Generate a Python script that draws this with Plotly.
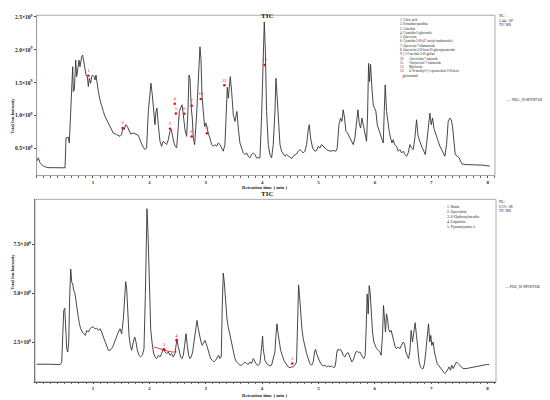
import numpy as np
import plotly.graph_objects as go

# NEG mode TIC (time in min, intensity in 1e9)
neg_time = [
    0.0, 0.03, 0.06, 0.12, 0.2, 0.3, 0.4, 0.504, 0.521, 0.563,
    0.58, 0.604, 0.622, 0.64, 0.651, 0.669, 0.693, 0.71, 0.728, 0.752,
    0.769, 0.781, 0.799, 0.817, 0.84, 0.858, 0.876, 0.9, 0.917, 0.935,
    0.959, 0.976, 0.994, 1.018, 1.036, 1.053, 1.065, 1.095, 1.124, 1.154,
    1.183, 1.213, 1.242, 1.272, 1.301, 1.36, 1.42, 1.479, 1.508, 1.526,
    1.55, 1.585, 1.609, 1.638, 1.668, 1.715, 1.762, 1.804, 1.833, 1.881,
    1.922, 1.951, 1.981, 2.011, 2.028, 2.052, 2.082, 2.099, 2.117, 2.135,
    2.158, 2.188, 2.217, 2.247, 2.277, 2.306, 2.336, 2.365, 2.389, 2.413,
    2.436, 2.46, 2.484, 2.513, 2.531, 2.554, 2.578, 2.602, 2.631, 2.661,
    2.684, 2.702, 2.72, 2.743, 2.761, 2.779, 2.803, 2.838, 2.868, 2.885,
    2.897, 2.915, 2.933, 2.956, 2.98, 3.003, 3.027, 3.051, 3.074, 3.104,
    3.134, 3.163, 3.193, 3.222, 3.252, 3.281, 3.311, 3.34, 3.358, 3.382,
    3.4, 3.417, 3.435, 3.459, 3.488, 3.518, 3.535, 3.553, 3.577, 3.606,
    3.666, 3.695, 3.725, 3.754, 3.784, 3.813, 3.843, 3.872, 3.902, 3.961,
    3.991, 4.02, 4.038, 4.056, 4.079, 4.109, 4.138, 4.168, 4.197, 4.227,
    4.245, 4.268, 4.292, 4.316, 4.345, 4.375, 4.404, 4.434, 4.493, 4.523,
    4.552, 4.582, 4.611, 4.641, 4.67, 4.7, 4.729, 4.759, 4.789, 4.818,
    4.836, 4.859, 4.895, 4.936, 4.966, 4.995, 5.025, 5.054, 5.084, 5.113,
    5.143, 5.202, 5.261, 5.308, 5.332, 5.362, 5.391, 5.415, 5.438, 5.462,
    5.486, 5.515, 5.545, 5.574, 5.616, 5.645, 5.675, 5.699, 5.722, 5.746,
    5.77, 5.793, 5.829, 5.852, 5.87, 5.888, 5.905, 5.923, 5.947, 5.971,
    5.994, 6.018, 6.041, 6.077, 6.112, 6.148, 6.166, 6.183, 6.207, 6.231,
    6.254, 6.278, 6.302, 6.325, 6.349, 6.384, 6.414, 6.443, 6.473, 6.503,
    6.532, 6.562, 6.591, 6.621, 6.65, 6.68, 6.709, 6.739, 6.763, 6.786,
    6.81, 6.839, 6.869, 6.893, 6.916, 6.946, 6.975, 6.999, 7.023, 7.046,
    7.07, 7.093, 7.123, 7.153, 7.182, 7.212, 7.241, 7.271, 7.3, 7.33,
    7.354, 7.377, 7.401, 7.425, 7.46, 7.495, 7.519, 7.543, 7.596, 7.685,
    7.803, 7.921, 8.039,
]
neg_int = [
    0.30, 0.354, 0.28, 0.227, 0.205, 0.202, 0.2, 0.202, 0.657, 0.667,
    0.581, 1.061, 1.338, 1.742, 1.364, 1.389, 1.843, 1.591, 1.692, 1.843,
    1.742, 1.818, 1.894, 1.919, 1.818, 1.692, 1.616, 1.591, 1.439, 1.566,
    1.49, 1.591, 1.616, 1.591, 1.54, 1.616, 1.513, 1.364, 1.237, 1.136,
    1.061, 0.985, 0.934, 0.884, 0.833, 0.732, 0.707, 0.682, 0.707, 0.808,
    0.783, 0.859, 0.833, 0.783, 0.717, 0.732, 0.707, 0.697, 0.631, 0.53,
    0.48, 0.505, 1.061, 1.364, 1.49, 1.313, 0.909, 0.859, 1.061, 1.111,
    0.859, 0.606, 0.53, 0.606, 0.581, 0.556, 0.631, 0.758, 0.783, 0.657,
    0.581, 0.53, 0.505, 0.833, 1.061, 1.111, 1.162, 1.011, 0.783, 0.682,
    1.061, 1.616, 1.566, 1.111, 0.96, 0.657, 0.556, 1.011, 1.566, 1.894,
    2.045, 1.869, 1.313, 1.061, 0.833, 0.884, 0.783, 0.707, 0.657, 0.556,
    0.53, 0.556, 0.53, 0.581, 0.556, 0.505, 0.455, 0.556, 0.96, 1.429,
    1.263, 1.49, 1.591, 1.364, 1.011, 0.909, 1.011, 1.061, 0.808, 0.581,
    0.429, 0.404, 0.429, 0.379, 0.354, 0.404, 0.429, 0.404, 0.354, 0.354,
    1.0, 2.071, 2.424, 2.02, 1.061, 0.556, 0.404, 0.354, 0.556, 1.061,
    1.566, 1.263, 0.808, 0.556, 0.455, 0.404, 0.379, 0.404, 0.354, 0.343,
    0.379, 0.404, 0.414, 0.455, 0.48, 0.455, 0.429, 0.455, 0.556, 0.783,
    0.859, 0.657, 0.505, 0.455, 0.465, 0.53, 0.505, 0.556, 0.53, 0.505,
    0.48, 0.455, 0.465, 0.455, 0.505, 0.859, 0.96, 0.909, 1.086, 0.96,
    0.758, 0.732, 0.682, 0.631, 0.556, 0.657, 0.909, 1.086, 0.884, 0.808,
    0.96, 0.859, 0.657, 0.606, 1.011, 1.793, 1.515, 1.778, 1.414, 1.162,
    1.111, 1.061, 0.859, 0.758, 0.657, 0.581, 1.061, 1.465, 1.061, 0.859,
    0.758, 0.657, 0.581, 0.631, 0.556, 0.53, 0.455, 0.48, 0.429, 0.455,
    0.404, 0.379, 0.429, 0.556, 0.505, 0.48, 0.657, 0.934, 0.707, 0.631,
    0.556, 0.505, 0.455, 0.404, 0.556, 0.859, 1.035, 0.859, 0.96, 0.808,
    0.732, 0.657, 0.606, 0.53, 0.48, 0.404, 0.379, 0.556, 0.909, 0.96,
    0.934, 0.833, 0.556, 0.404, 0.379, 0.354, 0.303, 0.263, 0.253, 0.253,
    0.247, 0.242, 0.227,
]

# POS mode TIC (time in min, intensity in 1e8)
pos_time = [
    0.0, 0.119, 0.238, 0.415, 0.445, 0.462, 0.48, 0.498, 0.515, 0.533,
    0.551, 0.569, 0.586, 0.604, 0.622, 0.64, 0.657, 0.675, 0.693, 0.71,
    0.734, 0.758, 0.781, 0.811, 0.84, 0.864, 0.888, 0.917, 0.947, 0.976,
    1.006, 1.036, 1.065, 1.095, 1.124, 1.154, 1.183, 1.213, 1.242, 1.272,
    1.301, 1.331, 1.36, 1.39, 1.42, 1.449, 1.479, 1.508, 1.538, 1.561,
    1.579, 1.597, 1.615, 1.638, 1.662, 1.686, 1.715, 1.739, 1.762, 1.786,
    1.816, 1.845, 1.875, 1.904, 1.928, 1.946, 1.957, 1.975, 1.999, 2.023,
    2.046, 2.07, 2.099, 2.129, 2.158, 2.188, 2.217, 2.247, 2.277, 2.306,
    2.336, 2.365, 2.395, 2.424, 2.454, 2.472, 2.489, 2.507, 2.531, 2.554,
    2.578, 2.602, 2.625, 2.649, 2.672, 2.696, 2.72, 2.743, 2.767, 2.791,
    2.82, 2.844, 2.868, 2.891, 2.915, 2.939, 2.962, 2.986, 3.009, 3.033,
    3.057, 3.086, 3.116, 3.145, 3.175, 3.204, 3.228, 3.252, 3.275, 3.293,
    3.311, 3.329, 3.352, 3.376, 3.4, 3.429, 3.459, 3.488, 3.518, 3.547,
    3.577, 3.606, 3.636, 3.666, 3.695, 3.725, 3.754, 3.784, 3.813, 3.843,
    3.872, 3.902, 3.931, 3.961, 3.991, 4.008, 4.02, 4.05, 4.079, 4.109,
    4.138, 4.168, 4.197, 4.227, 4.245, 4.263, 4.28, 4.304, 4.328, 4.357,
    4.387, 4.422, 4.463, 4.493, 4.523, 4.552, 4.582, 4.611, 4.629, 4.647,
    4.664, 4.682, 4.706, 4.729, 4.759, 4.789, 4.818, 4.848, 4.877, 4.907,
    4.93, 4.948, 4.966, 4.995, 5.025, 5.054, 5.084, 5.113, 5.143, 5.172,
    5.202, 5.232, 5.261, 5.291, 5.308, 5.326, 5.344, 5.367, 5.391, 5.415,
    5.438, 5.468, 5.498, 5.527, 5.545, 5.569, 5.592, 5.616, 5.639, 5.663,
    5.687, 5.71, 5.734, 5.758, 5.781, 5.805, 5.829, 5.846, 5.864, 5.882,
    5.9, 5.917, 5.935, 5.959, 5.982, 6.006, 6.03, 6.059, 6.089, 6.112,
    6.136, 6.154, 6.172, 6.189, 6.207, 6.225, 6.243, 6.266, 6.29, 6.313,
    6.337, 6.361, 6.384, 6.414, 6.443, 6.473, 6.503, 6.526, 6.55, 6.573,
    6.597, 6.621, 6.644, 6.668, 6.692, 6.715, 6.739, 6.763, 6.786, 6.81,
    6.834, 6.857, 6.881, 6.904, 6.928, 6.952, 6.975, 6.993, 7.011, 7.034,
    7.058, 7.082, 7.105, 7.129, 7.153, 7.182, 7.212, 7.241, 7.271, 7.295,
    7.318, 7.342, 7.365, 7.389, 7.418, 7.448, 7.477, 7.507, 7.537, 7.566,
    7.625, 7.685, 7.743, 7.803, 7.861, 7.921, 7.979, 8.027,
]
pos_int = [
    1.367, 1.35, 1.367, 1.35, 1.484, 2.839, 4.111, 4.229, 3.179, 2.163,
    1.994, 2.502, 4.873, 6.228, 5.551, 5.466, 5.127, 5.042, 4.703, 4.28,
    3.857, 3.433, 3.179, 3.01, 2.925, 2.839, 3.094, 3.01, 3.179, 3.264,
    3.264, 3.179, 3.213, 3.094, 3.179, 3.01, 2.756, 2.502, 2.248, 2.079,
    2.079, 2.163, 2.333, 2.586, 2.839, 3.01, 3.179, 2.925, 3.687, 5.212,
    5.584, 5.212, 4.026, 2.839, 2.333, 2.079, 2.502, 2.756, 2.502, 2.079,
    1.825, 1.74, 1.825, 2.163, 4.873, 8.26, 9.31, 8.091, 4.873, 3.179,
    2.502, 1.994, 1.74, 1.655, 1.825, 1.74, 1.91, 2.163, 1.994, 1.91,
    1.994, 1.825, 1.91, 1.74, 1.91, 2.502, 2.671, 2.333, 1.994, 1.74,
    1.655, 1.825, 2.333, 2.925, 2.333, 1.825, 1.655, 1.74, 1.994, 2.502,
    3.179, 3.603, 3.179, 2.839, 2.502, 2.333, 2.502, 2.586, 2.417, 2.163,
    1.91, 1.655, 1.571, 1.484, 1.571, 1.74, 1.825, 1.655, 1.74, 4.365,
    6.025, 5.551, 4.534, 3.687, 3.264, 2.839, 2.333, 1.91, 1.655, 1.484,
    1.401, 1.316, 1.316, 1.401, 1.484, 1.401, 1.35, 1.484, 1.401, 1.655,
    1.484, 1.35, 1.316, 1.401, 2.248, 2.807, 2.163, 1.571, 1.401, 1.316,
    1.282, 1.316, 1.655, 1.994, 2.839, 3.433, 3.01, 2.417, 2.079, 1.825,
    1.571, 1.401, 1.232, 1.181, 1.232, 1.232, 1.316, 1.484, 3.179, 5.415,
    4.873, 3.857, 3.179, 2.671, 2.248, 1.91, 1.655, 1.401, 1.316, 1.484,
    1.994, 2.129, 1.91, 1.655, 1.484, 1.35, 1.282, 1.316, 1.232, 1.282,
    1.232, 1.282, 1.198, 1.232, 1.484, 1.994, 2.129, 2.079, 2.129, 1.994,
    1.825, 1.74, 1.91, 1.96, 1.825, 1.571, 1.484, 1.571, 1.74, 1.994,
    2.028, 1.96, 1.994, 1.825, 1.74, 1.655, 1.825, 3.179, 4.958, 3.941,
    5.381, 5.042, 4.026, 3.01, 2.502, 2.333, 2.163, 2.079, 1.994, 1.825,
    2.839, 4.365, 3.348, 3.01, 3.941, 3.687, 3.179, 3.01, 3.094, 2.839,
    2.502, 2.248, 2.163, 2.248, 2.163, 2.333, 2.502, 2.417, 1.994, 1.825,
    1.655, 1.994, 3.094, 2.502, 3.01, 3.484, 2.839, 1.994, 1.484, 1.232,
    1.147, 1.147, 1.401, 1.994, 2.839, 3.433, 2.502, 2.839, 2.333, 2.502,
    1.994, 1.571, 1.401, 1.316, 1.232, 1.147, 1.011, 0.893, 0.977, 1.147,
    1.232, 1.062, 1.316, 1.147, 1.316, 1.484, 1.401, 1.316, 1.232, 1.147,
    1.147, 1.181, 1.232, 1.282, 1.282, 1.316, 1.35, 1.35,
]

# red peak labels
neg_mark_time = [0.917, 1.526, 2.365, 2.45, 2.47, 2.62, 2.75, 2.75, 2.91, 3.02, 3.33, 4.044]
neg_mark_int = [1.606, 0.808, 0.798, 1.18, 1.03, 1.025, 1.146, 0.68, 1.25, 0.73, 1.46, 1.77]
neg_mark_text = ["1", "2", "3", "4", "5", "6", "7", "8", "10", "11", "12", "13"]
pos_mark_time = [2.26, 2.48, 4.535]
pos_mark_int = [2.13, 2.59, 1.40]
pos_mark_text = ["2", "4", "5"]
pos_curve_time = [2.082, 2.16, 2.247, 2.33, 2.41, 2.484]
pos_curve_int = [2.248, 2.17, 2.10, 2.03, 1.99, 2.0]

x_ticks = [1, 2, 3, 4, 5, 6, 7, 8]

neg_compounds = [
    "1. Citric acid",
    "2. Proanthocyanidins",
    "3. Catechin",
    "4. Cyanidin-3-glucoside",
    "5. Quercetin",
    "6. Cyanidin 3-O-(6''-acetyl-arabinoside)",
    "7. Quercetin 7-rhamnoside",
    "8. Quercetin 3-O-beta-D-glucopyranoside",
    "9. (-)-Catechin 3-O-gallate",
    "10.\u00a0\u00a0\u00a0\u00a0\u00a0\u00a0Afzelechin 7-apioside",
    "11.\u00a0\u00a0\u00a0\u00a0\u00a0\u00a0Chrysoeriol 7-rutinoside",
    "12.\u00a0\u00a0\u00a0\u00a0\u00a0\u00a0Myricetin",
    "13.\u00a0\u00a0\u00a0\u00a0\u00a0\u00a04'-O-methyl-(-)-epicatechin-3-O-beta-",
    "\u00a0\u00a0\u00a0glucuronide",
]
pos_compounds = ["1. Rutin", "2. Quercitrin", "3. 6-Hydroxyluteolin", "4. Liquiritin", "5. Pyranocyanin A"]

SERIF = "Liberation Serif"
INK = "#333333"

fig = go.Figure()
fig.add_trace(go.Scatter(x=neg_time, y=np.array(neg_int) * 1e9, mode="lines",
                         line=dict(color=INK, width=0.9), xaxis="x", yaxis="y",
                         showlegend=False, hoverinfo="skip"))
fig.add_trace(go.Scatter(x=pos_time, y=np.array(pos_int) * 1e8, mode="lines",
                         line=dict(color=INK, width=0.9), xaxis="x2", yaxis="y2",
                         showlegend=False, hoverinfo="skip"))

# peak markers
fig.add_trace(go.Scatter(x=neg_mark_time, y=np.array(neg_mark_int) * 1e9, mode="markers+text",
                         text=neg_mark_text, textposition="top center",
                         textfont=dict(family=SERIF, size=4.5, color="red"),
                         marker=dict(color="red", size=2.5), xaxis="x", yaxis="y", showlegend=False))
fig.add_trace(go.Scatter(x=pos_curve_time, y=np.array(pos_curve_int) * 1e8, mode="lines",
                         line=dict(color="red", width=0.8), xaxis="x2", yaxis="y2", showlegend=False))
fig.add_trace(go.Scatter(x=pos_mark_time, y=np.array(pos_mark_int) * 1e8, mode="markers+text",
                         text=pos_mark_text, textposition="top center",
                         textfont=dict(family=SERIF, size=4.5, color="red"),
                         marker=dict(color="red", size=2.5), xaxis="x2", yaxis="y2", showlegend=False))

xcommon = dict(showgrid=False, zeroline=False, showline=True, linecolor="#444", linewidth=1,
               ticks="outside", tickcolor="#444",
               tickvals=x_ticks, ticktext=[f"<b>{t}</b>" for t in x_ticks],
               tickfont=dict(family=SERIF, size=5, color="#222"),
               minor=dict(ticks="outside", ticklen=1.5, dtick=0.125, tickcolor="#666"))
ycommon = dict(showgrid=False, zeroline=False, showline=True, linecolor="#444", linewidth=1,
               ticks="outside", ticklen=2, tickcolor="#444",
               tickfont=dict(family=SERIF, size=5.5, color="#222"))

# the page puts the figure 8 px in from the top-left corner, so the figure is 542x392
fig.update_layout(
    width=542, height=392,
    margin=dict(l=0, r=0, t=0, b=0),
    paper_bgcolor="white", plot_bgcolor="white",
    xaxis=dict(domain=[0.0528, 0.8985], range=[0, 8.13], anchor="y", ticklen=2, **xcommon),
    yaxis=dict(domain=[0.5758, 0.9865], range=[0.086e9, 2.526e9], anchor="x",
               tickvals=[0.5e9, 1.0e9, 1.5e9, 2.0e9, 2.5e9],
               ticktext=["<b>0.5×10<sup>9</sup></b>", "<b>1.0×10<sup>9</sup></b>", "<b>1.5×10<sup>9</sup></b>",
                         "<b>2.0×10<sup>9</sup></b>", "<b>2.5×10<sup>9</sup></b>"], **ycommon),
    xaxis2=dict(domain=[0.0498, 0.9004], range=[-0.03, 8.15], anchor="y2", ticklen=1.5, **xcommon),
    yaxis2=dict(domain=[0.0467, 0.5145], range=[0.47e8, 9.79e8], anchor="x2",
                tickvals=[2.5e8, 5.0e8, 7.5e8],
                ticktext=["<b>2.5×10<sup>8</sup></b>", "<b>5.0×10<sup>8</sup></b>",
                          "<b>7.5×10<sup>8</sup></b>"], **ycommon),
)

# light frame around each panel
for xr, yr in [("x domain", "y domain"), ("x2 domain", "y2 domain")]:
    fig.add_shape(type="rect", xref=xr, yref=yr, x0=0, x1=1, y0=0, y1=1,
                  line=dict(color="#aaaaaa", width=1))

ann_font = dict(family=SERIF, color="#222")
annotations = [
    dict(text="<b>TIC</b>", x=0.478, y=1.0, yanchor="top", font=dict(size=7, **ann_font)),
    dict(text="<b>TIC</b>", x=0.478, y=0.528, font=dict(size=7, **ann_font)),
    dict(text="<b>Retention time ( min )</b>", x=0.474, y=0.5436, font=dict(size=4.8, **ann_font)),
    dict(text="<b>Retention time ( min )</b>", x=0.474, y=0.0, yanchor="bottom", font=dict(size=4.8, **ann_font)),
    dict(text="<b>Total Ion Intensity</b>", x=0.0, y=0.778, xanchor="left", textangle=-90,
         font=dict(size=4.5, **ann_font)),
    dict(text="<b>Total Ion Intensity</b>", x=0.0, y=0.2755, xanchor="left", textangle=-90,
         font=dict(size=4.5, **ann_font)),
    dict(text="<br>".join(neg_compounds), x=0.7196, y=0.9847, xanchor="left", yanchor="top", align="left",
         font=dict(size=3.3, **ann_font)),
    dict(text="<br>".join(pos_compounds), x=0.8063, y=0.5051, xanchor="left", yanchor="top", align="left",
         font=dict(size=3.8, **ann_font)),
    dict(text="NL:<br>2.44e+09<br>TIC MS", x=0.9022, y=0.995, xanchor="left", yanchor="top", align="left",
         font=dict(size=3.6, **ann_font)),
    dict(text="NL:<br>9.37e+08<br>TIC MS", x=0.9022, y=0.518, xanchor="left", yanchor="top", align="left",
         font=dict(size=3.6, **ann_font)),
    dict(text="\u2014\u00a0NEG_JS-MYRT-OE1", x=0.995, y=0.7806, xanchor="right",
         font=dict(size=3.8, **ann_font)),
    dict(text="\u2014\u00a0POS_JS-MYRT-OE", x=0.987, y=0.2806, xanchor="right",
         font=dict(size=3.8, **ann_font)),
]
for a in annotations:
    a.setdefault("xref", "paper")
    a.setdefault("yref", "paper")
    a.setdefault("showarrow", False)
    fig.add_annotation(**a)

fig.write_html("out.html")
